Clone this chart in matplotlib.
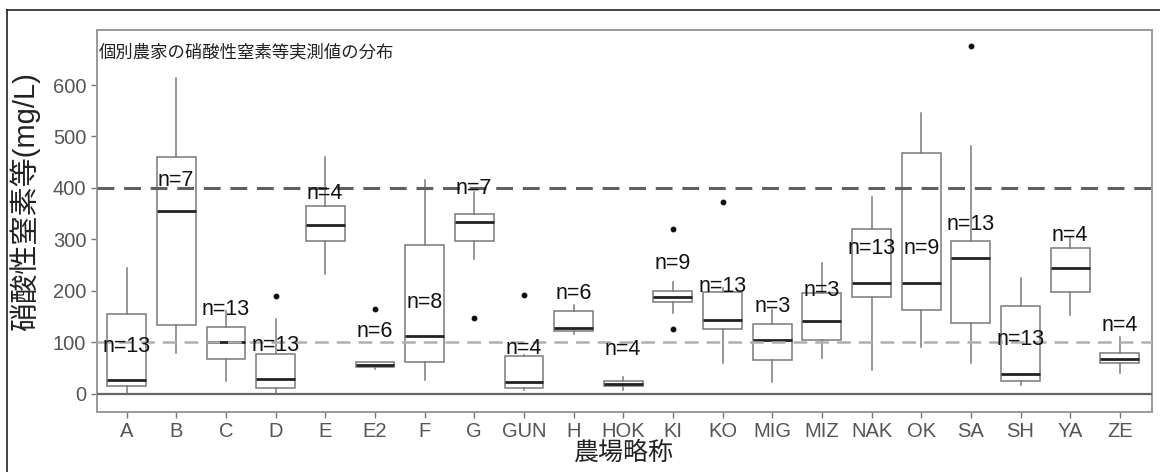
import matplotlib
matplotlib.use("Agg")
import matplotlib.pyplot as plt
from matplotlib.lines import Line2D

plt.rcParams['font.family'] = ['Liberation Sans', 'Noto Sans CJK JP', 'DejaVu Sans']

# 農場ごとの箱ひげ図の統計値 (mg/L)
farms = ["A", "B", "C", "D", "E", "E2", "F", "G", "GUN", "H", "HOK",
         "KI", "KO", "MIG", "MIZ", "NAK", "OK", "SA", "SH", "YA", "ZE"]
whis_lo = [0, 79, 24, 1, 232, 48, 26, 261, 8, 116, 7,
           156, 60, 22, 70, 47, 91, 59, 16, 153, 40]
q1 = [15, 133, 68, 12, 297, 52, 61, 297, 12, 122, 15,
      179, 125, 65, 105, 187, 162, 138, 25, 198, 60]
medians = [26, 355, 100, 29, 327, 56, 112, 334, 23, 127, 18,
           188, 144, 105, 141, 216, 216, 264, 38, 245, 68]
q3 = [155, 460, 129, 78, 365, 62, 289, 349, 73, 161, 24,
      199, 198, 135, 195, 321, 467, 297, 170, 283, 80]
whis_hi = [244, 614, 160, 146, 460, 62, 415, 393, 76, 172, 33,
           218, 205, 162, 255, 382, 546, 482, 224, 305, 110]
outliers = [[], [], [], [190], [], [165], [], [147], [192], [], [],
            [320, 125], [373], [], [], [], [], [675], [], [], []]
n_counts = [13, 7, 13, 13, 4, 6, 8, 7, 4, 6, 4,
            9, 13, 3, 3, 13, 9, 13, 13, 4, 4]
label_y = [92, 415, 164, 94, 389, 120, 177, 399, 88, 195, 85,
           253, 208, 169, 201, 282, 282, 329, 105, 308, 132]

# 基準値の線
ref_high = 400
ref_low = 100

fig = plt.figure(figsize=(11.6, 4.72), dpi=100)
ax = fig.add_axes([0.0834, 0.1278, 0.9094, 0.8086])

stats = []
for i in range(len(farms)):
    stats.append({
        "med": medians[i], "q1": q1[i], "q3": q3[i],
        "whislo": whis_lo[i], "whishi": whis_hi[i],
        "fliers": outliers[i], "label": farms[i],
    })

gray = "#7a7a7a"
ax.bxp(stats, positions=range(len(farms)), widths=0.78, patch_artist=True,
       showcaps=False,
       boxprops=dict(facecolor="white", edgecolor=gray, linewidth=1.1),
       whiskerprops=dict(color=gray, linewidth=1.1),
       medianprops=dict(color="#222222", linewidth=2.0),
       flierprops=dict(marker="o", markersize=3.2, markerfacecolor="#111111",
                       markeredgecolor="#111111"),
       zorder=2)

ax.axhline(0, color="#666666", linewidth=1.6, zorder=3)
ax.axhline(ref_high, color="#606060", linewidth=2.2, linestyle=(0, (5.5, 3.2)),
           zorder=3)
ax.axhline(ref_low, color="#b0b0b0", linewidth=1.8, linestyle=(0, (5.5, 3.2)),
           zorder=3)

for i, (n, y) in enumerate(zip(n_counts, label_y)):
    ax.text(i, y, f"n={n}", ha="center", va="center", fontsize=15.5,
            color="#111111", zorder=5)

ax.text(0.002, 0.942, "個別農家の硝酸性窒素等実測値の分布", transform=ax.transAxes,
        ha="left", va="center", fontsize=12.5, color="#222222")

ax.set_xlim(-0.6, 20.64)
ax.set_ylim(-35, 707)
ax.set_yticks([0, 100, 200, 300, 400, 500, 600])
ax.set_xticks(range(len(farms)))
ax.set_xticklabels(farms)
ax.tick_params(axis="both", colors="#777777", length=4, width=1, labelsize=14.5,
               labelcolor="#555555")
for s in ax.spines.values():
    s.set_color("#9a9a9a")
    s.set_linewidth(1.4)

ax.set_ylabel("硝酸性窒素等(mg/L)", fontsize=21, color="#222222", labelpad=1)
ax.yaxis.set_label_coords(-0.054, 0.55)
ax.set_xlabel("農場略称", fontsize=18, color="#222222", labelpad=0)

# 外枠
fig.add_artist(Line2D([0.006, 1.0], [0.979, 0.979], transform=fig.transFigure,
                      color="#222222", linewidth=1.2))
fig.add_artist(Line2D([0.006, 0.006], [0.0, 0.979], transform=fig.transFigure,
                      color="#222222", linewidth=1.2))

fig.savefig("out.png", dpi=100)
